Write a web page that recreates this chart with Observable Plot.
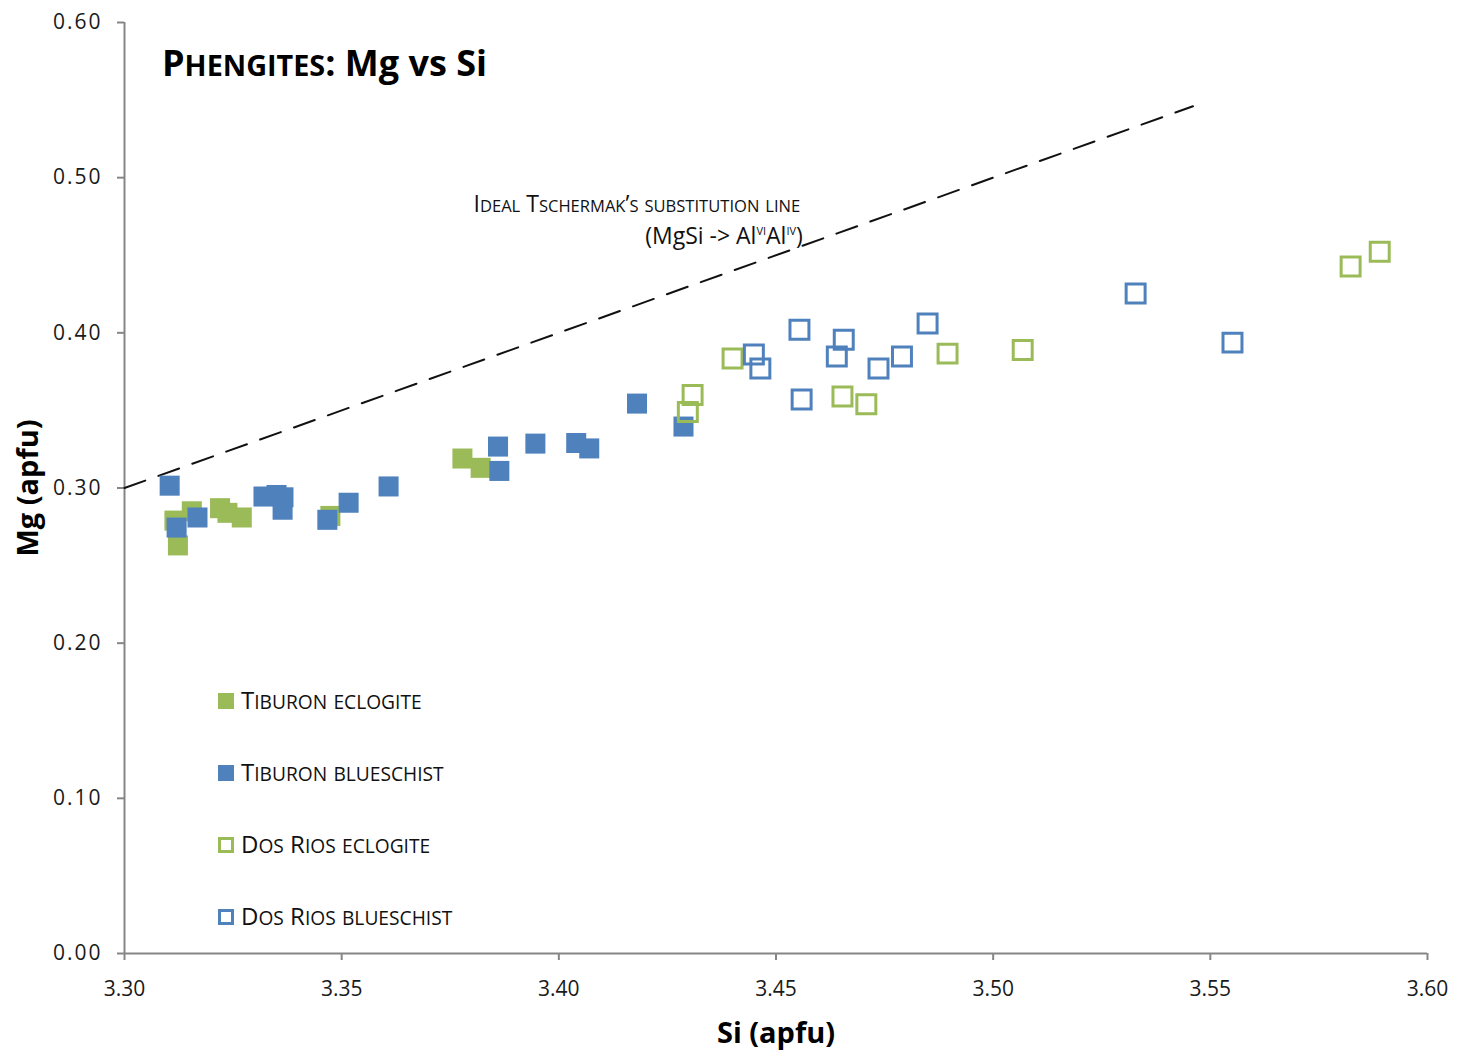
<!DOCTYPE html>
<html>
<head>
<meta charset="utf-8">
<script src="https://cdn.jsdelivr.net/npm/d3@7"></script>
<script src="https://cdn.jsdelivr.net/npm/@observablehq/plot@0.6"></script>
<style>
  html, body { margin: 0; padding: 0; background: #fff; }
  #chart { width: 1458px; height: 1053px; }
</style>
</head>
<body>
<div id="chart"></div>
<script>
// ---- Data ----
const seriesNames = ["Tiburon eclogite", "Tiburon blueschist", "Dos Rios eclogite", "Dos Rios blueschist"];

const tibEclSi = [3.3115, 3.3123, 3.3155, 3.3220, 3.3237, 3.3270, 3.3474, 3.3778, 3.3820];
const tibEclMg = [0.279, 0.263, 0.285, 0.287, 0.284, 0.281, 0.282, 0.319, 0.313];

const tibBluSi = [3.3104, 3.3120, 3.3168, 3.3320, 3.3350, 3.3366, 3.3364, 3.3467, 3.3516, 3.3608, 3.3860, 3.3863, 3.3946, 3.4040, 3.4070, 3.4180, 3.4287];
const tibBluMg = [0.3015, 0.2745, 0.281, 0.2945, 0.2955, 0.294, 0.286, 0.2795, 0.2905, 0.301, 0.3267, 0.311, 0.3286, 0.329, 0.3255, 0.3544, 0.3396];

const drEclSi = [3.4308, 3.4297, 3.4400, 3.4653, 3.4708, 3.4895, 3.5068, 3.5823, 3.5890];
const drEclMg = [0.360, 0.349, 0.3834, 0.359, 0.354, 0.3866, 0.389, 0.4427, 0.4523];

const drBluSi = [3.4449, 3.4464, 3.4554, 3.4559, 3.4640, 3.4656, 3.4736, 3.4790, 3.4849, 3.5328, 3.5551];
const drBluMg = [0.386, 0.377, 0.402, 0.357, 0.3847, 0.3956, 0.377, 0.3847, 0.406, 0.4253, 0.3937];

// Ideal Tschermak's substitution line (Mg = Si - 3)
const lineSi = [3.30, 3.546];
const lineMg = [0.30, 0.546];

const xTicks = [3.30, 3.35, 3.40, 3.45, 3.50, 3.55, 3.60];
const yTicks = [0.00, 0.10, 0.20, 0.30, 0.40, 0.50, 0.60];

const titleSmallCaps = "Phengites:";
const titleRest = " Mg vs Si";
const annLine1 = "Ideal Tschermak\u2019s substitution line";
const annLine2 = ["(MgSi -> Al", "VI", "Al", "IV", ")"];
const xLabel = "Si (apfu)";
const yLabel = "Mg (apfu)";

// ---- Build tables ----
const zip = (xs, ys) => xs.map((x, i) => ({si: x, mg: ys[i]}));
const tibEcl = zip(tibEclSi, tibEclMg);
const tibBlu = zip(tibBluSi, tibBluMg);
const drEcl = zip(drEclSi, drEclMg);
const drBlu = zip(drBluSi, drBluMg);
const lineData = zip(lineSi, lineMg);

const green = "#9BBB59";
const blue = "#4F81BD";
const axisGray = "#868686";
const font = "'Open Sans', sans-serif";

const plot = Plot.plot({
  width: 1458,
  height: 1053,
  marginLeft: 124,
  marginRight: 31,
  marginTop: 22,
  marginBottom: 100,
  style: {fontFamily: font, fontSize: "21px", color: "#1a1a1a", background: "#fff", overflow: "visible"},
  x: {domain: [3.30, 3.60], label: null},
  y: {domain: [0, 0.60], label: null},
  marks: [
    Plot.axisX({ticks: xTicks, tickFormat: d3.format(".2f"), tickSize: 7, tickPadding: 21, stroke: axisGray, strokeWidth: 2, fontSize: 21, label: null}),
    Plot.axisY({ticks: yTicks, tickFormat: d3.format(".2f"), tickSize: 7, tickPadding: 15, stroke: axisGray, strokeWidth: 2, fontSize: 21, label: null}),
    Plot.ruleX([3.30], {stroke: axisGray, strokeWidth: 2}),
    Plot.ruleY([0], {stroke: axisGray, strokeWidth: 2}),
    Plot.line(lineData, {x: "si", y: "mg", stroke: "#111", strokeWidth: 2, strokeDasharray: "22,14"}),
    Plot.dot(tibEcl, {x: "si", y: "mg", symbol: "square", r: 11.3, fill: green}),
    Plot.dot(tibBlu, {x: "si", y: "mg", symbol: "square", r: 11.3, fill: blue}),
    Plot.dot(drEcl, {x: "si", y: "mg", symbol: "square", r: 10.7, fill: "none", stroke: green, strokeWidth: 3}),
    Plot.dot(drBlu, {x: "si", y: "mg", symbol: "square", r: 10.7, fill: "none", stroke: blue, strokeWidth: 3}),
    Plot.text([xLabel], {frameAnchor: "bottom", dy: 89, textAnchor: "middle", fontSize: 29, fontWeight: "bold", fill: "#000"}),
    Plot.text([yLabel], {frameAnchor: "left", dx: -96, textAnchor: "middle", rotate: -90, fontSize: 29, fontWeight: "bold", fill: "#000"})
  ]
});

const svg = d3.select(plot);
const xs = plot.scale("x"), ys = plot.scale("y");

// widen y tick labels a bit
svg.selectAll("g[aria-label='y-axis tick label'] text").style("letter-spacing", "2px");

// small caps helper: uppercase letters full size, lowercase letters as uppercase at ratio*size
function smallCaps(sel, str, size, ratio) {
  const runs = [];
  for (const ch of str) {
    const small = ch !== ch.toUpperCase();
    const last = runs[runs.length - 1];
    if (last && last.small === small) last.text += ch;
    else runs.push({small, text: ch});
  }
  runs.forEach(r => {
    sel.append("tspan").attr("font-size", r.small ? size * ratio : size).text(r.small ? r.text.toUpperCase() : r.text);
  });
}

const overlay = svg.append("g").attr("font-family", font).attr("text-anchor", "start");

// Title
const title = overlay.append("text").attr("x", 162).attr("y", 76).attr("font-weight", "bold").attr("fill", "#000").attr("font-size", 36);
smallCaps(title, titleSmallCaps, 36, 0.8);
title.append("tspan").attr("font-size", 36).text(titleRest);

// Annotation
const a1 = overlay.append("text").attr("x", xs.apply(3.4557)).attr("y", ys.apply(0.4775))
  .attr("text-anchor", "end").attr("fill", "#111").attr("font-size", 23);
smallCaps(a1, annLine1, 23, 0.72);

const a2 = overlay.append("text").attr("x", xs.apply(3.4563)).attr("y", ys.apply(0.457))
  .attr("text-anchor", "end").attr("fill", "#111").attr("font-size", 23);
a2.append("tspan").text(annLine2[0]);
a2.append("tspan").attr("font-size", 11).attr("dy", -9).text(annLine2[1]);
a2.append("tspan").attr("dy", 9).text(annLine2[2]);
a2.append("tspan").attr("font-size", 11).attr("dy", -9).text(annLine2[3]);
a2.append("tspan").attr("dy", 9).text(annLine2[4]);

// Legend inside the plot area
const legendStyles = [
  {fill: green, stroke: "none"},
  {fill: blue, stroke: "none"},
  {fill: "#fff", stroke: green},
  {fill: "#fff", stroke: blue}
];
seriesNames.forEach((name, i) => {
  const cy = 701 + i * 72;
  const s = legendStyles[i];
  if (s.stroke === "none") {
    overlay.append("rect").attr("x", 218).attr("y", cy - 8).attr("width", 16).attr("height", 16).attr("fill", s.fill);
  } else {
    overlay.append("rect").attr("x", 219.5).attr("y", cy - 6.5).attr("width", 13).attr("height", 13).attr("fill", s.fill).attr("stroke", s.stroke).attr("stroke-width", 3);
  }
  const t = overlay.append("text").attr("x", 241).attr("y", cy + 8).attr("fill", "#111");
  smallCaps(t, name, 24, 0.8);
});

document.getElementById("chart").appendChild(plot);
</script>
</body>
</html>
